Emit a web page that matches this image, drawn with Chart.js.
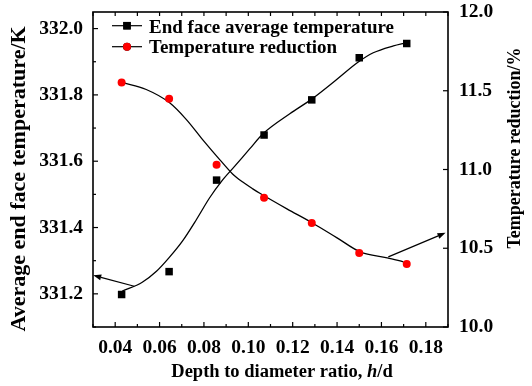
<!DOCTYPE html>
<html lang="en">
<head>
  <meta charset="UTF-8" />
  <title>End face temperature vs depth to diameter ratio</title>
  <script src="https://cdn.jsdelivr.net/npm/chart.js"></script>
  <style>
    html, body { margin: 0; padding: 0; background: #fff; }
    #wrap { width: 532px; height: 386px; }
  </style>
</head>
<body>
  <div id="wrap"><canvas id="chart" width="532" height="386"></canvas></div>

  <script>
    // measured points
    const ratios = [0.0429, 0.0643, 0.0857, 0.1071, 0.1286, 0.15, 0.1714];
    const avgTemp = [331.198, 331.267, 331.543, 331.679, 331.785, 331.912, 331.955];
    const tempReduction = [11.552, 11.45, 11.03, 10.82, 10.66, 10.47, 10.40];

    // fitted curves
    const tempCurveX = [0.0432, 0.0522, 0.0586, 0.0644, 0.0703, 0.0767, 0.0825, 0.0880, 0.0939, 0.1006, 0.1065, 0.1187, 0.1287, 0.1401, 0.1491, 0.1563, 0.1654, 0.1708];
    const tempCurveY = [331.208, 331.235, 331.268, 331.310, 331.359, 331.425, 331.489, 331.540, 331.585, 331.637, 331.682, 331.743, 331.788, 331.848, 331.897, 331.927, 331.948, 331.957];
    const redCurveX = [0.0432, 0.0540, 0.0644, 0.0721, 0.0794, 0.0871, 0.0929, 0.0975, 0.1020, 0.1052, 0.1174, 0.1287, 0.1400, 0.1504, 0.1626, 0.1699];
    const redCurveY = [11.553, 11.508, 11.425, 11.317, 11.190, 11.063, 10.972, 10.920, 10.877, 10.849, 10.750, 10.662, 10.566, 10.477, 10.439, 10.414];

    // axes
    const xTicks = [0.04, 0.06, 0.08, 0.10, 0.12, 0.14, 0.16, 0.18];
    const xMinor = [0.03, 0.05, 0.07, 0.09, 0.11, 0.13, 0.15, 0.17, 0.19];
    const leftTicks = [331.2, 331.4, 331.6, 331.8, 332.0];
    const leftMinor = [331.1, 331.3, 331.5, 331.7, 331.9];
    const rightTicks = [10.0, 10.5, 11.0, 11.5, 12.0];

    // arrows pointing each curve at its axis: [x, y] in data units
    const tempArrow = { axis: 'yL', from: [0.0486, 331.223], to: [0.0301, 331.256] };
    const redArrow = { axis: 'yR', from: [0.1631, 10.445], to: [0.1889, 10.598] };

    const ink = '#000';
    const serif = '"Liberation Serif", "Times New Roman", serif';

    function pts(xs, ys) {
      return xs.map((v, i) => ({ x: v, y: ys[i] }));
    }

    // fixed axis boxes so the plot area lands where the figure has it
    function fixBox(size) {
      return s => {
        if (s.isHorizontal()) s.height = size; else s.width = size;
        s.paddingTop = 0; s.paddingBottom = 0; s.paddingLeft = 0; s.paddingRight = 0;
      };
    }

    const decor = {
      id: 'decor',
      afterDraw(chart) {
        const { ctx, chartArea: a, scales } = chart;
        const x = scales.x, yL = scales.yL, yR = scales.yR;
        ctx.save();
        ctx.strokeStyle = ink;
        ctx.fillStyle = ink;

        const seg = (x1, y1, x2, y2) => {
          ctx.beginPath(); ctx.moveTo(x1, y1); ctx.lineTo(x2, y2); ctx.stroke();
        };

        // frame
        ctx.lineWidth = 1.6;
        ctx.strokeRect(a.left, a.top, a.right - a.left, a.bottom - a.top);

        // inward ticks
        ctx.lineWidth = 1.2;
        xTicks.forEach(v => {
          const p = x.getPixelForValue(v);
          seg(p, a.bottom, p, a.bottom - 5);
          seg(p, a.top, p, a.top + 4);
        });
        xMinor.forEach(v => {
          const p = x.getPixelForValue(v);
          seg(p, a.bottom, p, a.bottom - 3);
          seg(p, a.top, p, a.top + 4);
        });
        leftTicks.forEach(v => { const p = yL.getPixelForValue(v); seg(a.left, p, a.left + 5, p); });
        leftMinor.forEach(v => { const p = yL.getPixelForValue(v); seg(a.left, p, a.left + 3, p); });
        rightTicks.forEach(v => { const p = yR.getPixelForValue(v); seg(a.right, p, a.right - 5, p); });

        // arrows
        [tempArrow, redArrow].forEach(ar => {
          const ys = scales[ar.axis];
          const x1 = x.getPixelForValue(ar.from[0]), y1 = ys.getPixelForValue(ar.from[1]);
          const x2 = x.getPixelForValue(ar.to[0]), y2 = ys.getPixelForValue(ar.to[1]);
          const ang = Math.atan2(y2 - y1, x2 - x1);
          const hl = 8, hw = 3;
          const bx = x2 - hl * Math.cos(ang), by = y2 - hl * Math.sin(ang);
          seg(x1, y1, bx, by);
          ctx.beginPath();
          ctx.moveTo(x2, y2);
          ctx.lineTo(bx + hw * Math.sin(ang), by - hw * Math.cos(ang));
          ctx.lineTo(bx - hw * Math.sin(ang), by + hw * Math.cos(ang));
          ctx.closePath();
          ctx.fill();
        });

        // legend
        ctx.font = 'bold 19px ' + serif;
        ctx.textBaseline = 'alphabetic';
        ctx.textAlign = 'left';
        const rows = [[25.7, 33], [46.7, 52.5]];
        chart.data.datasets.slice(0, 2).forEach((ds, i) => {
          const [ly, by] = rows[i];
          ctx.lineWidth = 1.2;
          ctx.strokeStyle = ink;
          seg(112, ly, 142, ly);
          Chart.helpers.drawPoint(ctx, {
            pointStyle: ds.pointStyle, radius: ds.pointRadius, rotation: 0, borderWidth: 0
          }, 127, ly);
          ctx.fillStyle = ds.backgroundColor;
          ctx.fill();
          ctx.fillStyle = ink;
          ctx.fillText(ds.label, 149, by);
        });

        // axis titles
        ctx.save();
        ctx.font = 'bold 22px ' + serif;
        ctx.textAlign = 'center';
        ctx.translate(25, 179);
        ctx.rotate(-Math.PI / 2);
        ctx.fillText('Average end face temperature/K', 0, 0);
        ctx.restore();

        ctx.save();
        ctx.font = 'bold 18px ' + serif;
        ctx.textAlign = 'center';
        ctx.translate(520, 148);
        ctx.rotate(-Math.PI / 2);
        ctx.fillText('Temperature reduction/%', 0, 0);
        ctx.restore();

        const parts = [
          ['Depth to diameter ratio, ', 'bold 18.5px ' + serif],
          ['h', 'italic bold 18.5px ' + serif],
          ['/d', 'bold 18.5px ' + serif]
        ];
        let total = 0;
        parts.forEach(p => { ctx.font = p[1]; total += ctx.measureText(p[0]).width; });
        let cx = 282 - total / 2;
        ctx.textAlign = 'left';
        parts.forEach(p => {
          ctx.font = p[1];
          ctx.fillText(p[0], cx, 377);
          cx += ctx.measureText(p[0]).width;
        });

        ctx.restore();
      }
    };

    const tickFont = { family: serif, size: 19.5, weight: 'bold' };

    new Chart(document.getElementById('chart'), {
      type: 'scatter',
      data: {
        datasets: [
          {
            label: 'End face average temperature',
            data: pts(ratios, avgTemp),
            yAxisID: 'yL',
            pointStyle: 'rect',
            pointRadius: 5.3,
            backgroundColor: '#000',
            borderWidth: 0,
            showLine: false
          },
          {
            label: 'Temperature reduction',
            data: pts(ratios, tempReduction),
            yAxisID: 'yR',
            pointStyle: 'circle',
            pointRadius: 4,
            backgroundColor: '#ff0000',
            borderWidth: 0,
            showLine: false
          },
          {
            label: 'temp fit',
            data: pts(tempCurveX, tempCurveY),
            yAxisID: 'yL',
            showLine: true,
            pointRadius: 0,
            borderColor: '#000',
            borderWidth: 1.3,
            cubicInterpolationMode: 'monotone'
          },
          {
            label: 'reduction fit',
            data: pts(redCurveX, redCurveY),
            yAxisID: 'yR',
            showLine: true,
            pointRadius: 0,
            borderColor: '#000',
            borderWidth: 1.3,
            cubicInterpolationMode: 'monotone'
          }
        ]
      },
      options: {
        responsive: false,
        animation: false,
        devicePixelRatio: 1,
        layout: { padding: { top: 12, left: 0, right: 0, bottom: 0 } },
        plugins: { legend: { display: false }, tooltip: { enabled: false } },
        scales: {
          x: {
            type: 'linear',
            min: 0.03,
            max: 0.19,
            afterBuildTicks: s => { s.ticks = xTicks.map(v => ({ value: v })); },
            afterFit: fixBox(59),
            grid: { display: false, drawTicks: false },
            border: { display: false },
            ticks: {
              color: ink, font: tickFont, padding: 9, maxRotation: 0, autoSkip: false,
              callback: v => v.toFixed(2)
            }
          },
          yL: {
            position: 'left',
            min: 331.1,
            max: 332.05,
            afterBuildTicks: s => { s.ticks = leftTicks.map(v => ({ value: v })); },
            afterFit: fixBox(93),
            grid: { display: false, drawTicks: false },
            border: { display: false },
            ticks: { color: ink, font: tickFont, padding: 10, callback: v => v.toFixed(1) }
          },
          yR: {
            position: 'right',
            min: 10,
            max: 12,
            afterBuildTicks: s => { s.ticks = rightTicks.map(v => ({ value: v })); },
            afterFit: fixBox(84),
            grid: { display: false, drawTicks: false },
            border: { display: false },
            ticks: { color: ink, font: tickFont, padding: 11, callback: v => v.toFixed(1) }
          }
        }
      },
      plugins: [decor]
    });
  </script>
</body>
</html>
